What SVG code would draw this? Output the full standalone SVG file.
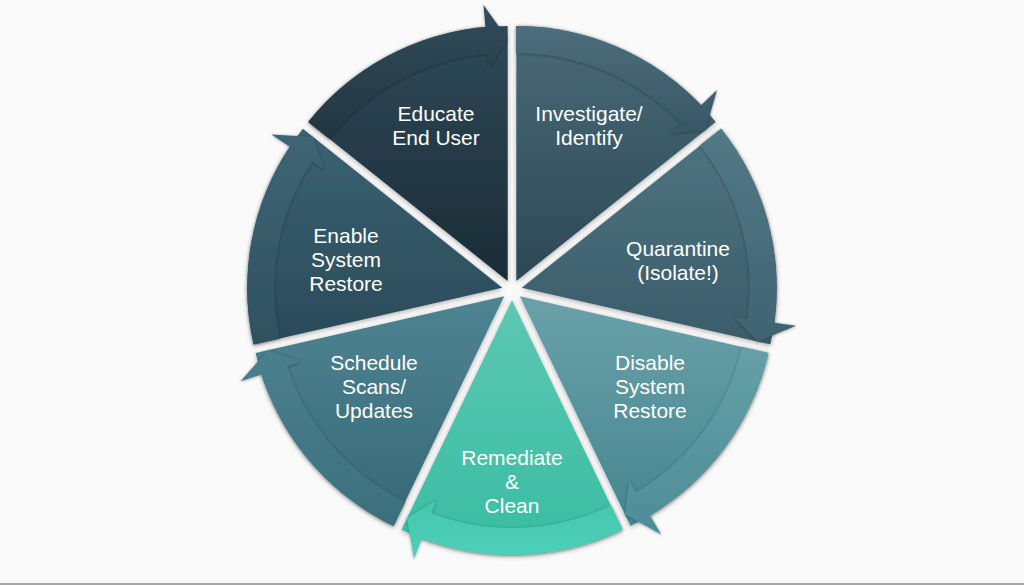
<svg xmlns="http://www.w3.org/2000/svg" width="1024" height="585" viewBox="0 0 1024 585">
<defs>
<style>
.lbl{font-family:"Liberation Sans",Arial,sans-serif;font-size:21px;fill:#ffffff;text-anchor:middle}
.wedge{filter:url(#sh)}
.band{filter:url(#bs)}
</style>
<filter id="sh" x="-10%" y="-10%" width="120%" height="120%">
<feDropShadow dx="0" dy="1.5" stdDeviation="2.5" flood-color="#000" flood-opacity="0.3"/>
</filter>
<filter id="bs" x="-10%" y="-10%" width="120%" height="120%">
<feDropShadow dx="0" dy="0.5" stdDeviation="1.6" flood-color="#000" flood-opacity="0.4"/>
</filter>
<linearGradient id="gEdu" x1="0" y1="0" x2="0" y2="1"><stop offset="0" stop-color="#2f4a59"/><stop offset="1" stop-color="#1b2b35"/></linearGradient>
<linearGradient id="gEduB" x1="0" y1="0" x2="0" y2="1"><stop offset="0" stop-color="#324d5b"/><stop offset="1" stop-color="#22363f"/></linearGradient>
<linearGradient id="gInv" x1="0" y1="0" x2="0" y2="1"><stop offset="0" stop-color="#4a6a78"/><stop offset="1" stop-color="#2c4856"/></linearGradient>
<linearGradient id="gInvB" x1="0" y1="0" x2="0" y2="1"><stop offset="0" stop-color="#4d6e7c"/><stop offset="1" stop-color="#375766"/></linearGradient>
<linearGradient id="gQua" x1="0" y1="0" x2="0" y2="1"><stop offset="0" stop-color="#4f7481"/><stop offset="1" stop-color="#3a5c6a"/></linearGradient>
<linearGradient id="gQuaB" x1="0" y1="0" x2="0" y2="1"><stop offset="0" stop-color="#527986"/><stop offset="1" stop-color="#3f6371"/></linearGradient>
<linearGradient id="gDis" x1="0" y1="0" x2="0" y2="1"><stop offset="0" stop-color="#6aa1a9"/><stop offset="1" stop-color="#468690"/></linearGradient>
<linearGradient id="gDisB" x1="0" y1="0" x2="0" y2="1"><stop offset="0" stop-color="#66a0a8"/><stop offset="1" stop-color="#4d8d97"/></linearGradient>
<linearGradient id="gRem" x1="0" y1="0" x2="0" y2="1"><stop offset="0" stop-color="#5ec7b3"/><stop offset="1" stop-color="#38bda2"/></linearGradient>
<linearGradient id="gRemB" x1="0" y1="0" x2="0" y2="1"><stop offset="0" stop-color="#44c7ae"/><stop offset="1" stop-color="#4fd0b8"/></linearGradient>
<linearGradient id="gSch" x1="0" y1="0" x2="0" y2="1"><stop offset="0" stop-color="#4e8492"/><stop offset="1" stop-color="#376876"/></linearGradient>
<linearGradient id="gSchB" x1="0" y1="0" x2="0" y2="1"><stop offset="0" stop-color="#4a808e"/><stop offset="1" stop-color="#3c6f7d"/></linearGradient>
<linearGradient id="gEna" x1="0" y1="0" x2="0" y2="1"><stop offset="0" stop-color="#3b6272"/><stop offset="1" stop-color="#2a4a59"/></linearGradient>
<linearGradient id="gEnaB" x1="0" y1="0" x2="0" y2="1"><stop offset="0" stop-color="#3e6575"/><stop offset="1" stop-color="#2f505f"/></linearGradient>
</defs>
<rect x="0" y="0" width="1024" height="585" fill="#fafafa"/>
<rect x="0" y="583" width="1024" height="2" fill="#a6a6a6"/>

<g id="node-investigate">
<path class="wedge" fill="url(#gInv)" d="M516.34,280.99 L516.34,25.99 A255,255 0 0 1 715.71,122.00 Z"/>
<text class="lbl" x="589" y="121">Investigate/</text>
<text class="lbl" x="589" y="145">Identify</text>
</g>
<g id="node-quarantine">
<path class="wedge" fill="url(#gQua)" d="M521.75,287.77 L721.12,128.78 A255,255 0 0 1 770.36,344.51 Z"/>
<text class="lbl" x="678" y="256">Quarantine</text>
<text class="lbl" x="678" y="280">(Isolate!)</text>
</g>
<g id="node-disable">
<path class="wedge" fill="url(#gDis)" d="M519.82,296.23 L768.43,352.97 A255,255 0 0 1 630.46,525.98 Z"/>
<text class="lbl" x="650" y="370">Disable</text>
<text class="lbl" x="650" y="394">System</text>
<text class="lbl" x="650" y="418">Restore</text>
</g>
<g id="node-remediate">
<path class="wedge" fill="url(#gRem)" d="M512,300 L622.64,529.75 A255,255 0 0 1 401.36,529.75 Z"/>
<text class="lbl" x="512" y="465">Remediate</text>
<text class="lbl" x="512" y="489">&amp;</text>
<text class="lbl" x="512" y="513">Clean</text>
</g>
<g id="node-schedule">
<path class="wedge" fill="url(#gSch)" d="M504.18,296.23 L393.54,525.98 A255,255 0 0 1 255.57,352.97 Z"/>
<text class="lbl" x="374" y="370">Schedule</text>
<text class="lbl" x="374" y="394">Scans/</text>
<text class="lbl" x="374" y="418">Updates</text>
</g>
<g id="node-enable">
<path class="wedge" fill="url(#gEna)" d="M502.25,287.77 L253.64,344.51 A255,255 0 0 1 302.88,128.78 Z"/>
<text class="lbl" x="346" y="243">Enable</text>
<text class="lbl" x="346" y="267">System</text>
<text class="lbl" x="346" y="291">Restore</text>
</g>
<g id="node-educate">
<path class="wedge" fill="url(#gEdu)" d="M507.66,280.99 L308.29,122.00 A255,255 0 0 1 507.66,25.99 Z"/>
<text class="lbl" x="436" y="121">Educate</text>
<text class="lbl" x="436" y="145">End User</text>
</g>

<g id="connectors">
<path class="band" fill="url(#gInvB)" d="M516.34,25.99 A255,255 0 0 1 701.09,105.23 L717.03,90.06 L705.54,130.11 L671.39,133.49 L681.53,123.84 A228,228 0 0 0 516.34,52.99 Z"/>
<path class="band" fill="url(#gQuaB)" d="M721.12,128.78 A255,255 0 0 1 774.36,322.63 L796.15,325.64 L757.68,341.62 L733.74,317.03 L747.61,318.94 A228,228 0 0 0 700.01,145.61 Z"/>
<path class="band" fill="url(#gDisB)" d="M768.43,352.97 A255,255 0 0 1 650.06,515.46 L661.30,534.38 L624.82,514.26 L629.12,480.21 L636.27,492.25 A228,228 0 0 0 742.10,346.96 Z"/>
<path class="band" fill="url(#gRemB)" d="M622.64,529.75 A255,255 0 0 1 421.80,538.51 L414.02,559.09 L407.00,518.03 L436.31,500.16 L431.35,513.26 A228,228 0 0 0 610.92,505.42 Z"/>
<path class="band" fill="url(#gSchB)" d="M393.54,525.98 A255,255 0 0 1 261.47,374.42 L240.53,381.17 L268.25,350.08 L300.49,361.85 L287.17,366.14 A228,228 0 0 0 405.26,501.65 Z"/>
<path class="band" fill="url(#gEnaB)" d="M253.64,344.51 A255,255 0 0 1 289.78,146.76 L271.45,134.59 L313.05,136.89 L323.95,169.43 L312.28,161.69 A228,228 0 0 0 279.97,338.50 Z"/>
<path class="band" fill="url(#gEduB)" d="M308.29,122.00 A255,255 0 0 1 485.43,26.96 L483.52,5.05 L507.66,38.99 L489.01,67.81 L487.79,53.86 A228,228 0 0 0 329.40,138.83 Z"/>
</g>
</svg>
